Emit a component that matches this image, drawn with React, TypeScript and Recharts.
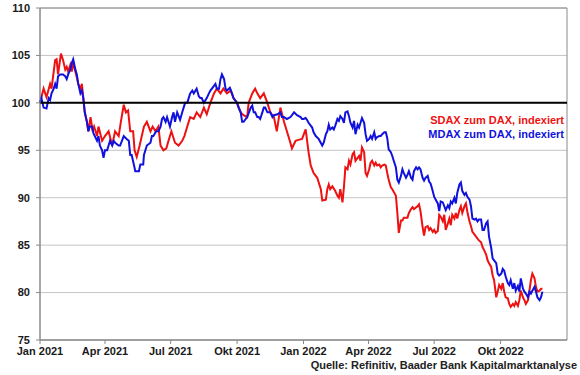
import {
  Line,
  LineChart,
  CartesianGrid,
  ReferenceArea,
  ReferenceLine,
  XAxis,
  YAxis,
} from "recharts";

// days since 1 Jan 2021, relative performance vs. DAX (start = 100)
const sdax: [number, number][] = [
  [0, 100], [5, 101.5], [9, 100.6], [14, 102], [16, 101.5], [21, 104.5], [23, 104.6], [25, 103],
  [29, 105.2], [32, 104.5], [35, 103.5], [37, 103.8], [39, 103.3], [42, 104], [44, 103.3], [46, 104.2],
  [50, 103], [53, 102], [56, 101.5], [58, 102], [60, 100.5], [62, 99], [65, 98], [67, 97],
  [70, 98.5], [73, 97], [75, 97.5], [79, 96.5], [81, 97.5], [86, 96], [90, 96.5], [95, 97],
  [100, 95.5], [104, 97], [109, 96.5], [112, 98], [116, 99.8], [119, 99], [122, 99.2], [125, 97],
  [129, 97], [131, 95], [134, 94.3], [138, 95.5], [141, 96.5], [144, 97.5], [148, 98], [153, 97],
  [156, 97.5], [160, 97], [164, 97.5], [167, 95.5], [171, 95], [175, 95.2], [178, 96], [182, 97],
  [187, 95.8], [192, 95.5], [197, 96], [200, 96.5], [204, 97.5], [208, 98.5], [213, 98.3], [217, 99],
  [222, 98.5], [227, 99.5], [231, 98.8], [236, 100], [241, 101], [245, 101.5], [250, 101], [254, 101.5],
  [259, 101], [264, 101.3], [268, 100.5], [273, 100], [278, 99], [282, 98.7], [287, 98.5], [289, 100],
  [294, 101], [298, 101.5], [301, 101], [305, 100.5], [310, 101], [315, 100], [319, 99], [324, 98.5],
  [328, 97], [331, 98.5], [333, 99.5], [338, 98], [342, 97], [346, 96], [349, 95.2], [354, 96],
  [358, 96.1], [363, 96.2], [368, 97.2], [372, 94.8], [375, 93.4], [379, 92.6], [384, 92.1], [389, 90.9],
  [391, 89.7], [396, 89.8], [398, 90.9], [400, 91.4], [402, 90.9], [405, 91.2], [409, 90.7], [412, 90.2],
  [414, 90], [416, 90.9], [419, 89.5], [421, 91.1], [423, 93.2], [426, 93], [428, 93.9], [430, 93.5],
  [433, 94.6], [435, 94.8], [437, 93.9], [442, 94.4], [444, 93.9], [446, 95.3], [449, 94.8], [451, 92.6],
  [453, 92.3], [456, 93], [458, 93.7], [460, 93.9], [463, 93.4], [465, 93.7], [467, 93.4], [470, 93.5],
  [472, 93.2], [474, 93.4], [477, 93.5], [479, 93.4], [481, 92.6], [483, 91.9], [486, 91.1], [488, 90.9],
  [493, 90.2], [495, 88.4], [497, 86.3], [500, 87.6], [502, 87.6], [504, 87.9], [509, 87.9], [511, 88.4],
  [514, 88.8], [516, 89], [518, 88.8], [523, 89.1], [525, 89.3], [527, 88.6], [530, 86.9], [532, 86],
  [534, 86.9], [537, 87], [539, 86.6], [541, 86.8], [544, 86.4], [546, 86.6], [548, 86.3], [551, 86.5],
  [553, 88.2], [555, 88], [558, 87.5], [560, 88.2], [562, 86.6], [565, 87.3], [567, 87.8], [569, 87.1],
  [571, 88.2], [574, 87.8], [576, 88.4], [578, 87.8], [581, 88.7], [583, 89.1], [585, 88.4], [588, 89.1],
  [590, 89.4], [592, 88.5], [595, 87.5], [597, 87], [599, 86.4], [602, 86.1], [604, 85.9], [606, 85.7],
  [608, 85.5], [611, 85.3], [613, 84.8], [615, 84.5], [618, 84], [620, 83.4], [622, 83.1], [625, 82.7],
  [627, 81.8], [629, 81.3], [632, 79.5], [634, 80.1], [636, 80.8], [639, 80.4], [641, 81], [643, 80.1],
  [645, 79.5], [648, 79.4], [650, 78.8], [652, 78.5], [655, 78.8], [657, 78.6], [659, 79], [662, 78.6],
  [664, 79.2], [666, 80.2], [669, 79.5], [671, 79.2], [673, 78.8], [676, 79.2], [678, 80.2], [680, 81.3],
  [682, 82], [685, 81.5], [687, 80.6], [689, 80.1], [692, 80.2], [694, 80.4], [696, 80.4],
];

const mdax: [number, number][] = [
  [0, 100], [2, 100.5], [5, 99.5], [9, 99.4], [12, 100.5], [14, 100.3], [16, 101], [19, 101.5],
  [21, 102], [23, 101.5], [25, 102.8], [28, 103], [32, 103], [35, 102.8], [37, 102.5], [39, 103],
  [42, 103.5], [44, 104.2], [46, 104.6], [49, 103.5], [51, 103], [53, 102], [56, 101], [58, 101.3],
  [60, 100.5], [62, 99], [65, 98], [67, 97], [69, 97.5], [72, 97.5], [74, 96.8], [79, 96],
  [81, 96.5], [83, 95.5], [86, 95], [88, 94.2], [90, 95], [93, 95], [95, 95.5], [97, 96],
  [100, 95.5], [102, 96], [104, 95.8], [109, 95.5], [111, 95.5], [116, 96.5], [120, 96.2], [123, 96],
  [125, 94.5], [127, 94.5], [130, 93.5], [132, 92.8], [137, 92.8], [139, 93.5], [143, 93.5], [144, 94.5],
  [148, 95.5], [153, 95.8], [155, 96.5], [157, 96.5], [161, 97], [164, 97], [167, 97.5], [169, 98.3],
  [171, 98.5], [174, 98], [176, 98.5], [178, 98], [180, 97.5], [183, 98.5], [185, 99], [187, 98],
  [190, 99], [194, 98.2], [197, 99], [199, 99.5], [201, 100], [204, 100], [206, 100.5], [208, 101],
  [211, 101.3], [213, 101], [217, 101.5], [220, 100.7], [222, 100.5], [224, 100.5], [227, 100], [231, 100.5],
  [234, 101], [236, 101.3], [241, 101.8], [243, 102], [245, 101.5], [248, 101.5], [250, 102.5], [252, 103],
  [255, 102.5], [257, 101.5], [259, 101.3], [263, 101.6], [266, 101], [268, 100.5], [273, 100], [275, 99.5],
  [278, 99], [280, 98], [282, 98], [287, 98.5], [292, 99.5], [294, 99.7], [296, 99], [298, 99],
  [301, 98.5], [303, 98.5], [305, 98.3], [308, 99], [310, 99.5], [312, 99.5], [315, 99], [319, 99],
  [322, 98.5], [324, 98.7], [329, 98.8], [333, 99], [335, 98.5], [338, 98.5], [342, 98.3], [347, 98.5],
  [352, 99], [356, 98.7], [361, 98.5], [363, 98.3], [365, 98.3], [368, 98.4], [370, 98.2], [372, 97.9],
  [377, 97.4], [379, 96.9], [382, 96.5], [386, 96.2], [391, 95.5], [393, 95.8], [396, 96.7], [398, 97],
  [400, 97.7], [402, 97.2], [405, 97.4], [407, 97.2], [409, 97.6], [412, 98.3], [414, 98.1], [416, 98.6],
  [419, 98.3], [421, 97.9], [423, 99], [426, 99.1], [428, 98.6], [430, 97.9], [433, 97.4], [435, 98.1],
  [437, 96.7], [440, 97.7], [442, 97.4], [444, 97.9], [446, 98.4], [449, 97.9], [451, 96.7], [453, 96],
  [456, 96.2], [458, 96.5], [460, 96.2], [463, 96.9], [465, 96.2], [467, 96.4], [470, 96.5], [472, 96.5],
  [474, 96.7], [477, 96.9], [479, 96.9], [481, 96.3], [483, 95.1], [486, 94.8], [488, 94.4], [490, 93.9],
  [493, 93.2], [495, 91.9], [497, 91.6], [500, 92.3], [502, 93], [504, 92.6], [507, 92.1], [509, 92.4],
  [511, 92.8], [514, 92.1], [516, 91.9], [518, 92.8], [521, 93.2], [523, 93], [525, 93.2], [527, 93],
  [530, 92.1], [532, 91.8], [534, 92.1], [537, 92.3], [539, 91.7], [541, 91.5], [544, 90.7], [546, 90.1],
  [548, 89.8], [551, 89.4], [553, 88.6], [555, 89.6], [558, 89.5], [560, 89.1], [562, 88.7], [565, 89.2],
  [567, 88.9], [569, 89.6], [571, 89.4], [574, 90], [576, 89.4], [578, 90.5], [581, 91.4], [583, 91.6],
  [585, 90.7], [588, 90.3], [590, 90.5], [592, 90.1], [595, 89.8], [597, 89.1], [599, 87.8], [602, 87.7],
  [604, 87.8], [606, 87.5], [608, 87.7], [611, 87.7], [613, 86.6], [615, 86.6], [618, 87.3], [620, 87.5],
  [622, 85.9], [625, 84.7], [627, 83.6], [629, 83.4], [632, 83.1], [634, 82], [636, 81.8], [639, 82],
  [641, 82.5], [643, 82.3], [645, 81.7], [648, 81], [650, 80.8], [652, 81.3], [655, 80.4], [657, 81],
  [659, 80.2], [662, 80.7], [664, 80.1], [666, 81.5], [669, 80.4], [671, 80.1], [673, 79.9], [676, 79.5],
  [678, 80.1], [680, 79.9], [682, 80.2], [685, 80.6], [687, 80.1], [689, 79.5], [692, 79.2], [694, 79.5],
  [696, 80.1],
];

const seriesNames = ["SDAX zum DAX, indexiert", "MDAX zum DAX, indexiert"];
const seriesColors = ["#ee1111", "#1111dd"];

const quarterTicks = [0, 90, 181, 273, 365, 455, 546, 638];
const quarterLabels = [
  "Jan 2021", "Apr 2021", "Jul 2021", "Okt 2021",
  "Jan 2022", "Apr 2022", "Jul 2022", "Okt 2022",
];
const yTicks = [75, 80, 85, 90, 95, 100, 105, 110];

const FONT = "'Liberation Sans', Arial, sans-serif";
const toRows = (s: [number, number][]) => s.map(([day, value]) => ({ day, value }));
const tickStyle = { fill: "#1a1a1a", fontSize: 11, fontWeight: "bold", fontFamily: FONT };

export default function App() {
  return (
    <div style={{ position: "absolute", left: 0, top: 0, width: 580, height: 375, background: "#fff" }}>
      <LineChart width={580} height={375} margin={{ top: 8, right: 13, bottom: 15, left: 5 }}>
        <CartesianGrid vertical={false} stroke="#c4c4c4" />
        <ReferenceArea x1={0} x2={730} y1={75} y2={110} fill="none" stroke="#8a8a8a" />
        <XAxis
          dataKey="day"
          type="number"
          domain={[0, 730]}
          ticks={quarterTicks}
          tickFormatter={(v: number) => quarterLabels[quarterTicks.indexOf(v)] ?? ""}
          tick={tickStyle}
          tickSize={4}
          tickMargin={3}
          stroke="#8a8a8a"
          height={20}
          allowDuplicatedCategory={false}
        />
        <YAxis
          type="number"
          domain={[75, 110]}
          ticks={yTicks}
          tick={tickStyle}
          tickSize={4}
          tickMargin={6}
          stroke="#8a8a8a"
          width={35}
        />
        <Line
          data={toRows(sdax)}
          dataKey="value"
          name={seriesNames[0]}
          stroke={seriesColors[0]}
          strokeWidth={2}
          dot={false}
          isAnimationActive={false}
        />
        <Line
          data={toRows(mdax)}
          dataKey="value"
          name={seriesNames[1]}
          stroke={seriesColors[1]}
          strokeWidth={2}
          dot={false}
          isAnimationActive={false}
        />
        <ReferenceLine y={100} stroke="#000" strokeWidth={2} />
      </LineChart>
      <div
        style={{
          position: "absolute",
          right: 16,
          top: 113,
          textAlign: "right",
          fontFamily: FONT,
          fontWeight: "bold",
          fontSize: 11,
          lineHeight: "14px",
        }}
      >
        {seriesNames.map((n, i) => (
          <div key={n} style={{ color: seriesColors[i] }}>{n}</div>
        ))}
      </div>
      <div
        style={{
          position: "absolute",
          right: 3,
          top: 359,
          fontFamily: FONT,
          fontWeight: "bold",
          fontSize: 11,
          color: "#222",
          whiteSpace: "nowrap",
        }}
      >
        Quelle: Refinitiv, Baader Bank Kapitalmarktanalyse
      </div>
    </div>
  );
}
